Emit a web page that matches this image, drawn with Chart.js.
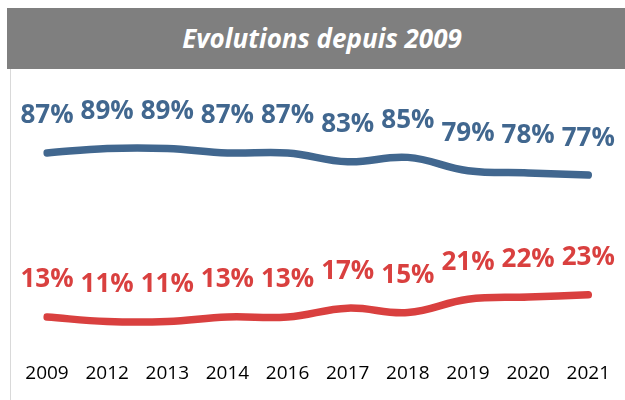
<!DOCTYPE html>
<html>
<head>
<meta charset="utf-8">
<script src="https://cdn.jsdelivr.net/npm/chart.js@4"></script>
<style>
  html, body { margin: 0; padding: 0; background: #fff; }
  #wrap { position: relative; width: 625px; height: 400px; overflow: hidden; }
  #banner {
    position: absolute; left: 7px; top: 8px; width: 618px; height: 61px;
    background: #7f7f7f; color: #fff; box-sizing: border-box; padding-left: 12px;
    font: italic bold 26px "Open Sans", sans-serif; line-height: 60px; text-align: center;
  }
  #frame { position: absolute; left: 10px; top: 69px; width: 1px; height: 331px; background: #d9d9d9; }
  #c { position: absolute; left: 0; top: 0; }
</style>
</head>
<body>
<div id="wrap">
  <canvas id="c" width="625" height="400"></canvas>
  <div id="frame"></div>
  <div id="banner">Evolutions depuis 2009</div>
</div>
<script>
var years = ['2009', '2012', '2013', '2014', '2016', '2017', '2018', '2019', '2020', '2021'];
var blueValues = [87, 89, 89, 87, 87, 83, 85, 79, 78, 77];
var redValues = [13, 11, 11, 13, 13, 17, 15, 21, 22, 23];

var blue = '#41678f';
var red = '#d9403f';

// draws the "87%" style labels above every point
var pointLabels = {
  id: 'pointLabels',
  afterDatasetsDraw: function (chart) {
    var ctx = chart.ctx;
    ctx.save();
    ctx.font = 'bold 26px "Open Sans", sans-serif';
    ctx.textAlign = 'center';
    ctx.textBaseline = 'middle';
    chart.data.datasets.forEach(function (ds, i) {
      var meta = chart.getDatasetMeta(i);
      ctx.fillStyle = ds.borderColor;
      meta.data.forEach(function (pt, j) {
        ctx.fillText(ds.data[j] + '%', pt.x, pt.y - 37);
      });
    });
    ctx.restore();
  }
};

new Chart(document.getElementById('c'), {
  type: 'line',
  data: {
    labels: years,
    datasets: [{
      label: 'blue',
      data: blueValues,
      borderColor: blue,
      borderWidth: 7.5,
      borderCapStyle: 'round',
      tension: 0.4,
      pointRadius: 0
    }, {
      label: 'red',
      data: redValues,
      borderColor: red,
      borderWidth: 7.5,
      borderCapStyle: 'round',
      tension: 0.4,
      pointRadius: 0
    }]
  },
  options: {
    responsive: false,
    animation: false,
    layout: { padding: { top: 123, left: 47, right: 29, bottom: 0 } },
    plugins: {
      legend: { display: false },
      tooltip: { enabled: false }
    },
    scales: {
      x: {
        grid: { display: false },
        border: { display: false },
        ticks: {
          color: '#000',
          padding: 15,
          font: { family: '"Open Sans", sans-serif', size: 19 }
        }
      },
      y: {
        display: false,
        min: 3,
        max: 100.5
      }
    }
  },
  plugins: [pointLabels]
});
</script>
</body>
</html>
